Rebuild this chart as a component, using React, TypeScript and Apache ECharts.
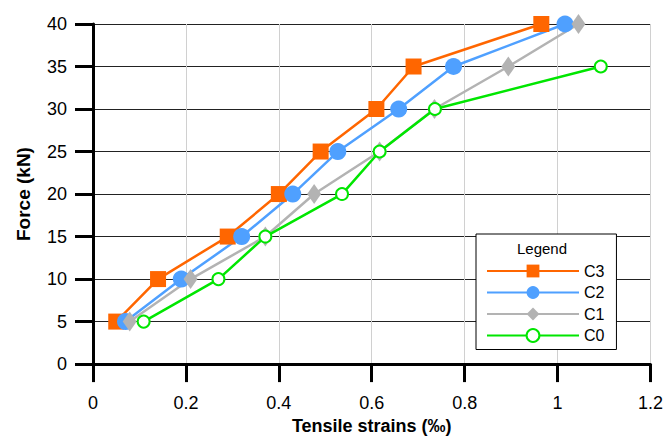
import React, { useEffect, useRef } from "react";
import * as echarts from "echarts";

const forces = [5, 10, 15, 20, 25, 30, 35, 40];
const strainsC3 = [0.05, 0.14, 0.29, 0.40, 0.49, 0.61, 0.69, 0.965];
const strainsC2 = [0.07, 0.19, 0.32, 0.43, 0.527, 0.658, 0.776, 1.016];
const strainsC1 = [0.079, 0.21, 0.371, 0.476, 0.617, 0.735, 0.894, 1.045];
const forcesC0 = [5, 10, 15, 20, 25, 30, 35];
const strainsC0 = [0.109, 0.27, 0.371, 0.536, 0.617, 0.736, 1.093];

const xTicks = [0, 0.2, 0.4, 0.6, 0.8, 1, 1.2];

const FONT = "Liberation Sans, Arial, sans-serif";

function pairs(xs: number[], ys: number[]) {
  return xs.map((x, i) => [x, ys[i]]);
}

export default function App() {
  const ref = useRef<HTMLDivElement>(null);
  useEffect(() => {
    if (!ref.current) return;
    const chart = echarts.init(ref.current, null, { renderer: "svg" });
    const lineW = 2.5;
    chart.setOption({
      animation: false,
      backgroundColor: "#fff",
      textStyle: { fontFamily: FONT },
      grid: { left: 93, right: 13, top: 24, bottom: 74 },
      xAxis: {
        type: "value",
        min: 0,
        max: 1.2,
        interval: 0.2,
        name: "Tensile strains (‰)",
        nameLocation: "middle",
        nameGap: 51,
        nameTextStyle: { fontSize: 18, fontWeight: "bold", color: "#000", fontFamily: FONT },
        axisLine: { show: true, onZero: false, lineStyle: { color: "#000", width: 3 } },
        axisTick: { show: true, length: 18, lineStyle: { color: "#000", width: 3 } },
        axisLabel: {
          fontSize: 18,
          color: "#000",
          margin: 30,
          fontFamily: FONT,
          formatter: (v: number) => {
            const t = xTicks.find((k) => Math.abs(k - v) < 1e-6);
            return t === undefined ? "" : String(t);
          },
        },
        splitLine: { show: true, lineStyle: { color: "#d0d0d0", width: 1 } },
      },
      yAxis: {
        type: "value",
        min: 0,
        max: 40,
        interval: 5,
        name: "Force (kN)",
        nameLocation: "middle",
        nameGap: 60,
        nameRotate: 90,
        nameTextStyle: { fontSize: 19, fontWeight: "bold", color: "#000", fontFamily: FONT },
        axisLine: { show: true, onZero: false, lineStyle: { color: "#000", width: 3 } },
        axisTick: { show: true, length: 18, lineStyle: { color: "#000", width: 3 } },
        axisLabel: { fontSize: 18, color: "#000", margin: 26, fontFamily: FONT },
        splitLine: { show: true, lineStyle: { color: "#222", width: 1 } },
      },
      legend: {
        orient: "vertical",
        left: 476,
        top: 234,
        align: "left",
        padding: [29, 12, 6, 10],
        itemWidth: 92,
        itemHeight: 16,
        itemGap: 5.5,
        borderColor: "#000",
        borderWidth: 1,
        backgroundColor: "#fff",
        textStyle: { fontSize: 16, color: "#000", fontFamily: FONT },
        data: ["C3", "C2", "C1", "C0"],
      },
      graphic: [
        {
          type: "text",
          left: 517,
          top: 241,
          z: 100,
          style: { text: "Legend", fontSize: 15, fill: "#000", fontFamily: FONT },
        },
      ],
      series: [
        {
          name: "C3",
          type: "line",
          data: pairs(strainsC3, forces),
          symbol: "rect",
          symbolSize: 16,
          color: "#FF6600",
          lineStyle: { width: lineW, color: "#FF6600" },
          itemStyle: { color: "#FF6600" },
        },
        {
          name: "C2",
          type: "line",
          data: pairs(strainsC2, forces),
          symbol: "circle",
          symbolSize: 17,
          color: "#4FA0FF",
          lineStyle: { width: lineW, color: "#4FA0FF" },
          itemStyle: { color: "#4FA0FF" },
        },
        {
          name: "C1",
          type: "line",
          data: pairs(strainsC1, forces),
          symbol: "diamond",
          symbolSize: [14, 20],
          color: "#B3B3B3",
          lineStyle: { width: lineW, color: "#B3B3B3" },
          itemStyle: { color: "#B3B3B3" },
        },
        {
          name: "C0",
          type: "line",
          data: pairs(strainsC0, forcesC0),
          symbol: "emptyCircle",
          symbolSize: 12,
          color: "#00E600",
          lineStyle: { width: lineW, color: "#00E600" },
          itemStyle: { color: "#00E600", borderColor: "#00E600", borderWidth: 2.5 },
        },
      ],
    });
    return () => chart.dispose();
  }, []);
  return <div ref={ref} style={{ width: 666, height: 440, position: "absolute", left: 0, top: 0 }} />;
}
